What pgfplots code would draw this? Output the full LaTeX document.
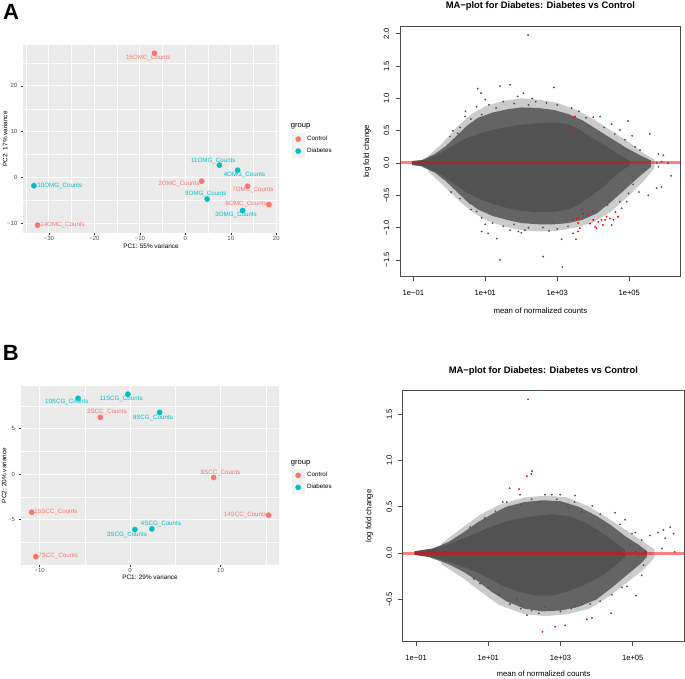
\documentclass[border=0pt]{standalone}
\usepackage{pgfplots}
\pgfplotsset{compat=1.18}
\usepackage{fontspec}
\setmainfont{Liberation Sans}
\definecolor{ctrl}{HTML}{F8766D}
\definecolor{diab}{HTML}{00BFC4}
\definecolor{panelbg}{HTML}{EBEBEB}
\definecolor{keybg}{HTML}{F2F2F2}
\definecolor{ggtick}{HTML}{4D4D4D}
\definecolor{nonsig}{HTML}{525252}
\newcommand{\fs}[1]{\fontsize{#1}{#1}\selectfont}
\pgfplotsset{
  ggpca/.style={
    scale only axis, clip=false,
    axis background/.style={fill=panelbg},
    axis line style={draw=none},
    grid=both,
    major grid style={white, line width=0.9pt},
    minor grid style={white, line width=0.45pt},
    tick align=outside, tick pos=left,
    major tick length=2pt, minor tick length=0pt,
    tick style={color=black!80, line width=0.5pt},
    ticklabel style={font=\fs{6}, text=ggtick},
    xticklabel style={inner ysep=1pt},
    yticklabel style={inner xsep=3.5pt},
    legend style={draw=none, fill=none, inner sep=0pt, row sep=0pt, column sep=3pt,
      font=\fs{6.2}, nodes={inner sep=0pt}},
    legend cell align=left,
    legend image code/.code={\fill[keybg] (0pt,-5.8pt) rectangle (11.6pt,5.8pt);
      \draw[##1] plot coordinates {(5.8pt,0pt)};},
  },
  ggpt/.style={only marks, mark=*, mark size=2.6pt, color=#1},
  rma/.style={
    scale only axis, clip=false,
    axis line style={black!70, line width=0.8pt},
    tick align=outside, tick pos=left, major tick length=4.5pt,
    tick style={black!70, line width=0.6pt},
    ticklabel style={font=\fs{7.6}},
    xtick={-1,1,3,5}, xticklabels={1e−01,1e+01,1e+03,1e+05},
    xticklabel style={anchor=north, inner ysep=8.5pt},
    yticklabel style={rotate=90, anchor=south, inner ysep=6pt},
  },
  mapt/.style={only marks, mark=*, mark size=0.7pt, color=#1},
}
\begin{document}
\begin{tikzpicture}
\useasboundingbox (0pt,0pt) rectangle (685pt,-679pt);

%================ Panel A : PCA ==================
\node[anchor=north west, font=\bfseries\fs{22}, inner sep=0pt] at (3pt,-4.5pt) {A};
\begin{axis}[ggpca, at={(23pt,-233pt)}, anchor=south west, width=256pt, height=188pt,
  xmin=-35.7, xmax=20.6, ymin=-12.1, ymax=28.9,
  xtick={-30,-20,-10,0,10,20}, xticklabels={−30,−20,−10,0,10,20},
  ytick={-10,0,10,20}, yticklabels={−10,0,10,20},
  minor xtick={-35,-25,-15,-5,5,15}, minor ytick={-5,5,15,25},
  legend style={at={(1.0508,0.5324)}, anchor=north west}]
\addplot[ggpt=ctrl] coordinates {(-6.8,27.1) (3.6,-0.8) (13.7,-1.9) (18.4,-5.9) (-32.5,-10.4)};
\addlegendentry{Control}
\addplot[ggpt=diab] coordinates {(7.5,2.7) (11.5,1.6) (-33.3,-1.8) (4.8,-4.7) (12.6,-7.2)};
\addlegendentry{Diabetes}
\begin{scope}[every node/.style={font=\fs{6.2}, inner sep=0pt}]
\node[text=ctrl] at (axis cs:-8.15,26.0) {15OMC\_Counts};
\node[text=diab] at (axis cs:6.17,3.6) {11OMG\_Counts};
\node[text=diab] at (axis cs:13.0,0.6) {4OMG\_Counts};
\node[text=ctrl] at (axis cs:-1.39,-1.48) {2OMC\_Counts};
\node[text=diab] at (axis cs:-27.6,-1.8) {10OMG\_Counts};
\node[text=ctrl] at (axis cs:14.85,-2.8) {7OMC\_Counts};
\node[text=diab] at (axis cs:4.49,-3.67) {9OMG\_Counts};
\node[text=ctrl] at (axis cs:13.37,-5.7) {8OMC\_Counts};
\node[text=diab] at (axis cs:11.17,-8.25) {3OMG\_Counts};
\node[text=ctrl] at (axis cs:-27.0,-10.44) {14OMC\_Counts};
\end{scope}
\node[yshift=-13.7pt, font=\fs{6.4}] at (axis description cs:0.5,0) {PC1: 55\% variance};
\node[xshift=-18pt, rotate=90, font=\fs{6.4}] at (axis description cs:0,0.5) {PC2: 17\% variance};
\node[font=\fs{7.6}, anchor=base west, inner sep=0pt] at (axis description cs:1.0457,0.5638) {group};
\end{axis}

%================ Panel B : PCA ==================
\node[anchor=north west, font=\bfseries\fs{22}, inner sep=0pt] at (2.7pt,-345pt) {B};
\begin{axis}[ggpca, at={(20.7pt,-565pt)}, anchor=south west, width=258.6pt, height=179pt,
  xmin=-12.1, xmax=16.5, ymin=-10.0, ymax=9.7,
  xtick={-10,0,10}, xticklabels={−10,0,10},
  ytick={-5,0,5}, yticklabels={−5,0,5},
  minor xtick={-5,5,15}, minor ytick={-7.5,-2.5,2.5,7.5},
  legend style={at={(1.049,0.535)}, anchor=north west}]
\addplot[ggpt=ctrl] coordinates {(-3.3,6.25) (9.24,-0.37) (-10.88,-4.19) (15.33,-4.52) (-10.43,-9.08)};
\addlegendentry{Control}
\addplot[ggpt=diab] coordinates {(-5.75,8.35) (-0.24,8.8) (3.26,6.8) (0.53,-6.1) (2.41,-6.03)};
\addlegendentry{Diabetes}
\begin{scope}[every node/.style={font=\fs{6.2}, inner sep=0pt}]
\node[text=diab] at (axis cs:-7.0,7.94) {10SCG\_Counts};
\node[text=diab] at (axis cs:-0.99,8.24) {11SCG\_Counts};
\node[text=ctrl] at (axis cs:-2.57,6.8) {2SCC\_Counts};
\node[text=diab] at (axis cs:2.52,6.2) {9SCG\_Counts};
\node[text=ctrl] at (axis cs:10.0,0.15) {8SCC\_Counts};
\node[text=ctrl] at (axis cs:-8.2,-4.19) {15SCC\_Counts};
\node[text=ctrl] at (axis cs:12.75,-4.52) {14SCC\_Counts};
\node[text=diab] at (axis cs:3.41,-5.51) {4SCG\_Counts};
\node[text=diab] at (axis cs:-0.35,-6.65) {3SCG\_Counts};
\node[text=ctrl] at (axis cs:-7.95,-9.04) {7SCC\_Counts};
\end{scope}
\node[yshift=-12.7pt, font=\fs{6.4}] at (axis description cs:0.5,0) {PC1: 29\% variance};
\node[xshift=-16.7pt, rotate=90, font=\fs{6.4}] at (axis description cs:0,0.5) {PC2: 20\% variance};
\node[font=\fs{7.6}, anchor=base west, inner sep=0pt] at (axis description cs:1.044,0.564) {group};
\end{axis}

%================ Panel A : MA plot ==================
\begin{axis}[rma, at={(400pt,-276.7pt)}, anchor=south west, width=280.7pt, height=250.7pt,
  xmin=-1.37, xmax=6.43, ymin=-1.76, ymax=2.12,
  ytick={-1.5,-1,-0.5,0,0.5,1,1.5,2}, yticklabels={−1.5,−1.0,−0.5,0.0,0.5,1.0,1.5,2.0}]
% outer, sparsely scattered part of the cloud
\addplot[fill=nonsig, fill opacity=0.3, draw=none] coordinates {
(-0.6,0.1) (-0.2,0.3) (0.2,0.55) (0.6,0.75) (1.0,0.88) (1.5,0.96) (2.0,1.0) (2.5,0.98) (3.0,0.93) (3.5,0.83) (4.0,0.68) (4.5,0.5) (5.0,0.32) (5.4,0.15) (5.7,0.05)
(5.7,-0.08) (5.4,-0.28) (5.0,-0.5) (4.5,-0.75) (4.0,-0.92) (3.5,-1.0) (3.0,-1.05) (2.5,-1.06) (2.0,-1.04) (1.5,-0.98) (1.0,-0.88) (0.6,-0.74) (0.2,-0.55) (-0.2,-0.33) (-0.6,-0.12)};
% intermediate density
\addplot[fill=nonsig, fill opacity=0.85, draw=none] coordinates {
(-0.75,0.05) (-0.4,0.14) (-0.1,0.26) (0.2,0.42) (0.5,0.58) (0.8,0.70) (1.2,0.78) (1.6,0.83) (2.0,0.86) (2.5,0.85) (2.9,0.82) (3.3,0.76) (3.7,0.66) (4.1,0.52) (4.5,0.38) (4.9,0.24) (5.3,0.12) (5.6,0.04)
(5.6,-0.06) (5.3,-0.2) (4.9,-0.4) (4.5,-0.6) (4.1,-0.78) (3.7,-0.88) (3.3,-0.93) (2.9,-0.95) (2.5,-0.95) (2.0,-0.93) (1.6,-0.88) (1.2,-0.82) (0.8,-0.72) (0.5,-0.6) (0.2,-0.44) (-0.1,-0.28) (-0.4,-0.15) (-0.75,-0.06)};
% dense core
\addplot[fill=nonsig, draw=none] coordinates {
(-1.04,0.03) (-0.675,0.05) (-0.45,0.10) (-0.175,0.17) (0.10,0.27) (0.49,0.39) (0.94,0.47) (1.41,0.54) (1.96,0.59) (2.52,0.62) (2.94,0.63) (3.30,0.60) (3.575,0.53) (3.85,0.43) (4.24,0.30) (4.52,0.20) (4.80,0.10) (5.02,0.03)
(5.02,-0.03) (4.80,-0.12) (4.52,-0.24) (4.24,-0.39) (3.85,-0.55) (3.575,-0.65) (3.30,-0.72) (2.85,-0.76) (2.38,-0.76) (1.88,-0.73) (1.41,-0.67) (0.94,-0.58) (0.49,-0.46) (0.10,-0.31) (-0.175,-0.20) (-0.45,-0.12) (-0.675,-0.06) (-1.04,-0.03)};
\addplot[mapt=nonsig] coordinates {
(2.19,1.98) (0.79,1.15) (0.88,1.08) (1.41,1.19) (1.69,1.21) (2.06,1.08) (2.91,1.17) (0.44,0.72) (0.02,0.41) (0.23,0.46) (0.76,0.87) (1.90,1.03)
(0.90,-1.06) (1.08,-1.09) (1.32,-1.17) (1.41,-1.50) (1.69,-1.04) (1.92,-1.06) (0.57,-0.62) (0.76,-0.75) (2.10,-1.04) (2.61,-1.45) (3.14,-1.61) (2.77,-1.05) (3.12,-1.18) (2.89,-0.92)
(4.19,0.72) (4.51,0.60) (4.97,0.65) (5.57,0.45) (5.08,0.42) (5.16,0.25) (5.81,0.14) (5.95,0.12) (5.76,0.0) (6.08,0.0) (5.9,0.02) (5.81,-0.06) (6.16,-0.20) (5.76,-0.39) (5.9,-0.37) (5.53,-0.50) (5.27,-0.45) (5.11,-0.21) (4.93,-0.60) (4.69,-0.83) (4.74,-0.60) (4.79,-0.70) (4.98,-0.47) (5.11,-0.33) (4.74,0.51) (4.88,0.36) (5.3,0.2) (5.44,-0.1)
(0.3,0.55) (0.6,0.68) (0.9,0.75) (1.1,0.9) (1.3,0.85) (1.5,0.95) (1.8,0.92) (2.2,0.9) (2.4,0.95) (2.7,0.93) (3.0,0.9) (3.4,0.85) (3.8,0.7) (4.3,0.55) (4.6,0.45) (0.1,0.5) (0.45,0.8) (1.0,0.98) (2.3,1.0) (3.6,0.8)
(0.3,-0.55) (0.6,-0.72) (0.9,-0.85) (1.2,-0.93) (1.5,-0.98) (1.8,-0.95) (2.2,-1.0) (2.6,-1.0) (3.0,-1.02) (3.3,-0.98) (4.0,-0.75) (4.4,-0.65) (0.05,-0.45) (1.0,-0.95) (2.0,-1.08)};
\addplot[red, opacity=0.5, line width=3pt] coordinates {(-1.37,0) (6.43,0)};
\addplot[mapt=red] coordinates {
(3.49,0.72) (4.0,0.71) (3.44,0.51) (3.54,-0.86) (3.58,-0.93) (3.63,-1.01) (3.58,-1.06) (3.72,-0.78) (3.91,-0.94) (4.0,-0.88) (4.05,-0.99) (4.09,-1.01) (4.14,-0.91) (4.23,-0.88) (4.33,-0.88) (4.37,-0.83) (4.46,-0.86) (4.51,-0.96) (4.56,-0.88) (4.69,-0.83) (3.44,-0.88) (3.68,-0.72) (3.52,-1.18) (3.44,-1.09) (3.85,-0.80) (4.27,-0.96) (4.62,-0.76)};
\node[yshift=20pt, font=\bfseries\fs{9.4}] at (axis description cs:0.5,1) {MA−plot for Diabetes: Diabetes vs Control};
\node[yshift=-34pt, font=\fs{7.8}] at (axis description cs:0.5,0) {mean of normalized counts};
\node[xshift=-33pt, rotate=90, font=\fs{7.8}] at (axis description cs:0,0.5) {log fold change};
\end{axis}

%================ Panel B : MA plot ==================
\begin{axis}[rma, at={(402.7pt,-641.7pt)}, anchor=south west, width=281.3pt, height=251.7pt,
  xmin=-1.37, xmax=6.42, ymin=-0.957, ymax=1.76,
  ytick={-0.5,0,0.5,1,1.5}, yticklabels={−0.5,0.0,0.5,1.0,1.5}]
\addplot[fill=nonsig, fill opacity=0.3, draw=none] coordinates {
(-0.3,0.1) (0.3,0.28) (0.8,0.42) (1.3,0.52) (2.0,0.6) (2.6,0.62) (3.2,0.6) (3.8,0.5) (4.3,0.38) (4.8,0.25) (5.3,0.12) (5.6,0.04)
(5.6,-0.05) (5.3,-0.18) (4.8,-0.33) (4.3,-0.48) (3.8,-0.6) (3.2,-0.66) (2.6,-0.68) (2.0,-0.66) (1.3,-0.56) (0.8,-0.42) (0.3,-0.27) (-0.3,-0.12)};
\addplot[fill=nonsig, fill opacity=0.85, draw=none] coordinates {
(-0.6,0.04) (-0.1,0.12) (0.3,0.22) (0.7,0.33) (1.1,0.42) (1.5,0.50) (2.0,0.55) (2.5,0.57) (3.0,0.56) (3.5,0.50) (4.0,0.40) (4.4,0.30) (4.8,0.18) (5.2,0.08) (5.4,0.02)
(5.4,-0.04) (5.2,-0.12) (4.8,-0.25) (4.4,-0.38) (4.0,-0.50) (3.5,-0.58) (3.0,-0.62) (2.5,-0.63) (2.0,-0.60) (1.5,-0.52) (1.1,-0.42) (0.7,-0.30) (0.3,-0.2) (-0.1,-0.12) (-0.6,-0.05)};
\addplot[fill=nonsig, draw=none] coordinates {
(-1.05,0.02) (-0.52,0.05) (-0.06,0.10) (0.40,0.17) (0.86,0.25) (1.33,0.32) (1.79,0.37) (2.30,0.40) (2.76,0.42) (3.22,0.40) (3.68,0.33) (4.14,0.22) (4.51,0.12) (4.79,0.03)
(4.79,-0.04) (4.51,-0.14) (4.14,-0.25) (3.68,-0.34) (3.22,-0.41) (2.76,-0.46) (2.30,-0.46) (1.79,-0.41) (1.33,-0.34) (0.86,-0.24) (0.40,-0.16) (-0.06,-0.10) (-0.52,-0.05) (-1.05,-0.02)};
\addplot[mapt=nonsig] coordinates {
(1.59,0.70) (2.07,-0.67) (0.77,-0.33) (0.27,-0.15) (1.51,0.55) (1.88,0.63) (3.40,0.62) (2.99,0.63) (2.76,0.63) (2.57,0.63) (3.39,0.55) (3.88,0.51) (4.51,0.435) (4.79,0.36) (5.07,0.22) (5.48,0.19) (5.70,0.22) (5.85,0.25) (6.04,0.28) (6.13,0.21) (5.90,0.16) (5.81,0.05) (6.16,0.015) (5.25,0.14) (5.34,0.015) (5.16,-0.04) (5.30,-0.13) (5.25,-0.24) (5.09,-0.46) (4.84,-0.36) (4.70,-0.37) (4.42,-0.45) (4.40,-0.65) (3.87,-0.70) (3.82,-0.55) (3.40,-0.58) (2.57,-0.58) (4.93,0.086) (4.98,0.21) (4.65,0.31) (3.59,0.445) (3.22,0.48)
(0.9,0.38) (1.2,0.45) (1.6,0.50) (1.9,0.52) (2.2,0.58) (2.4,0.55) (2.9,0.58) (3.2,0.52) (3.6,0.47) (4.1,0.42) (0.5,0.28) (1.4,0.55)
(0.6,-0.28) (1.0,-0.38) (1.3,-0.45) (1.6,-0.55) (1.9,-0.6) (2.2,-0.62) (2.4,-0.65) (2.7,-0.6) (3.0,-0.63) (3.3,-0.6) (3.6,-0.55) (4.1,-0.52) (1.8,-0.5)};
\addplot[red, opacity=0.5, line width=3pt] coordinates {(-1.37,0) (6.42,0)};
\addplot[mapt=red] coordinates {(2.10,1.66) (2.07,0.83) (2.19,0.855) (2.21,0.885) (1.85,0.69) (2.50,-0.85) (2.85,-0.795) (3.13,-0.78) (3.73,-0.715)};
\node[yshift=19.3pt, font=\bfseries\fs{9.4}] at (axis description cs:0.5,1) {MA−plot for Diabetes: Diabetes vs Control};
\node[yshift=-32pt, font=\fs{7.8}] at (axis description cs:0.5,0) {mean of normalized counts};
\node[xshift=-33.4pt, rotate=90, font=\fs{7.8}] at (axis description cs:0,0.5) {log fold change};
\end{axis}
\end{tikzpicture}
\end{document}
